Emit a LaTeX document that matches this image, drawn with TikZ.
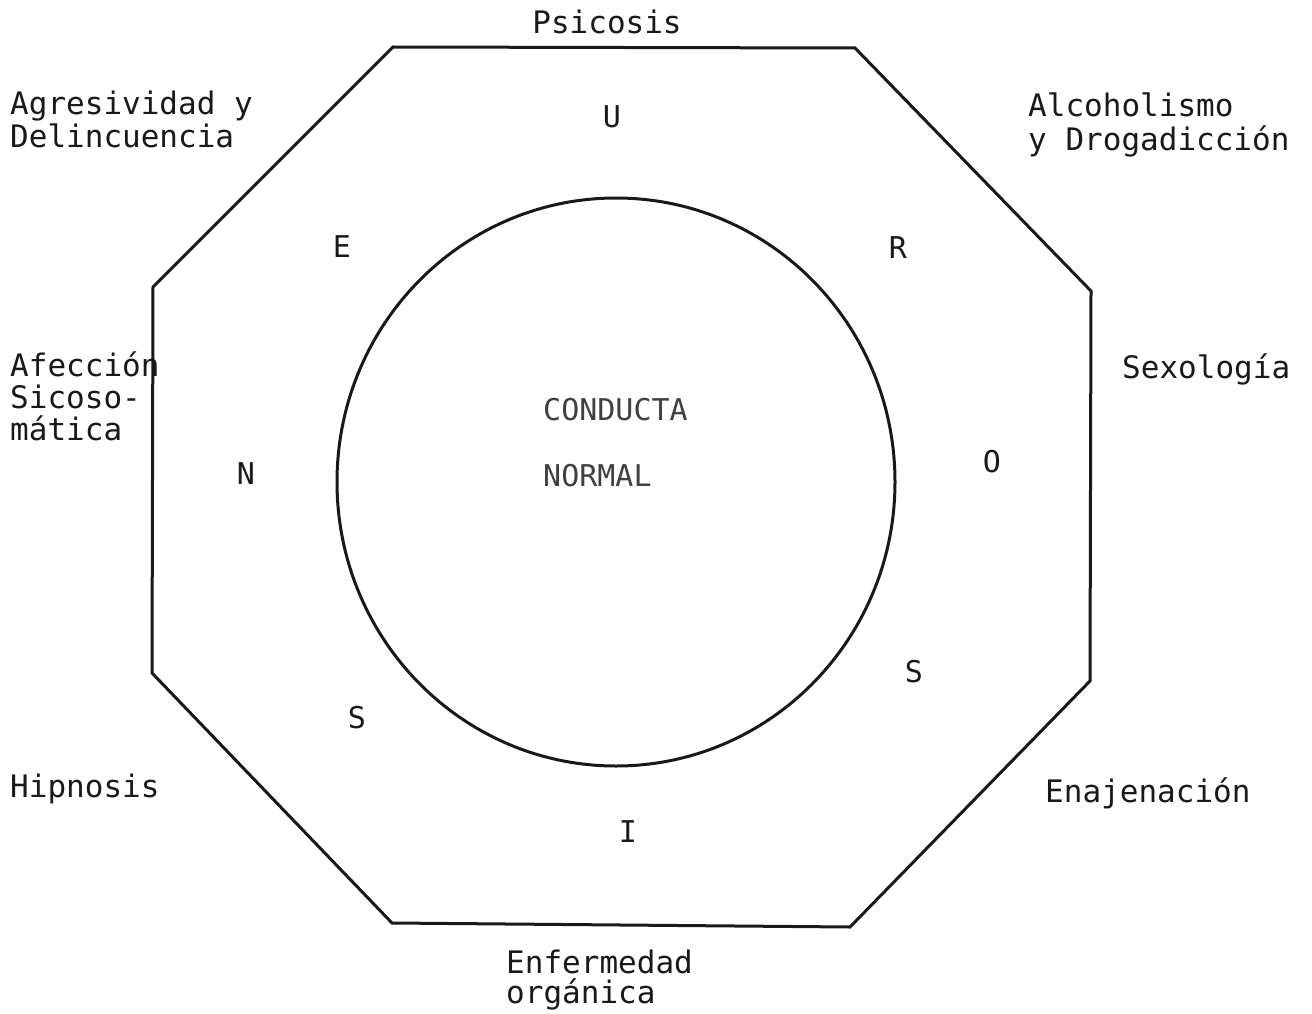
\documentclass[tikz,border=0pt]{standalone}
\usepackage{fontspec}
\newfontfamily\tw{DejaVu Sans Mono}
\begin{document}
\begin{tikzpicture}[x=1pt,y=-1pt,
  lbl/.style={font=\tw\fontsize{31}{33}\selectfont, inner sep=0pt, align=left, text=black!90},
  letter/.style={font=\tw\fontsize{30}{32}\selectfont, inner sep=0pt, text=black!90},
  edge/.style={line width=3pt, black!90, line join=miter}]
\useasboundingbox (0,0) rectangle (1312,1014);
\fill[white] (0,0) rectangle (1312,1014);
% octagon
\coordinate (p1) at (393,47);
\coordinate (p2) at (855,48);
\coordinate (p3) at (1091,291);
\coordinate (p4) at (1090,681);
\coordinate (p5) at (850,927);
\coordinate (p6) at (392,923);
\coordinate (p7) at (152,673);
\coordinate (p8) at (153,287);
\draw[edge] (p1) -- (p2) -- (p3) -- (p4) -- (p5) -- (p6) -- (p7) -- (p8) -- cycle;
% circle
\draw[edge] (616,482) ellipse [x radius=279, y radius=284];
% outer labels (base = baseline of last line)
\node[lbl, anchor=base] (psi) at (607,34) {Psicosis};
\node[lbl, anchor=base west] (agr) at (10,148) {Agresividad y\\Delincuencia};
\node[lbl, anchor=base west] (alc) at (1028,150) {Alcoholismo\\y Drogadicción};
\node[lbl, anchor=base west] (sex) at (1122,378) {Sexología};
\node[lbl, anchor=base west, font=\tw\fontsize{31}{32}\selectfont] (afe) at (10,440) {Afección\\Sicoso-\\mática};
\node[lbl, anchor=base west] (hip) at (10,797) {Hipnosis};
\node[lbl, anchor=base west] (ena) at (1045,802) {Enajenación};
\node[lbl, anchor=base west, font=\tw\fontsize{31}{30}\selectfont] (enf) at (506,1003) {Enfermedad\\orgánica};
% neurosis letters
\node[letter] (lu) at (612,117) {U};
\node[letter] (le) at (342,247) {E};
\node[letter] (lr) at (898,248) {R};
\node[letter] (ln) at (246,474) {N};
\node[letter] (lo) at (992,462) {O};
\node[letter] (ls1) at (914,672) {S};
\node[letter] (ls2) at (357,718) {S};
\node[letter] (li) at (628,832) {I};
% centre
\node[letter, anchor=west, text=black!75] (cond) at (543,410) {CONDUCTA};
\node[letter, anchor=west, text=black!75] (norm) at (543,476) {NORMAL};
\end{tikzpicture}
\end{document}
